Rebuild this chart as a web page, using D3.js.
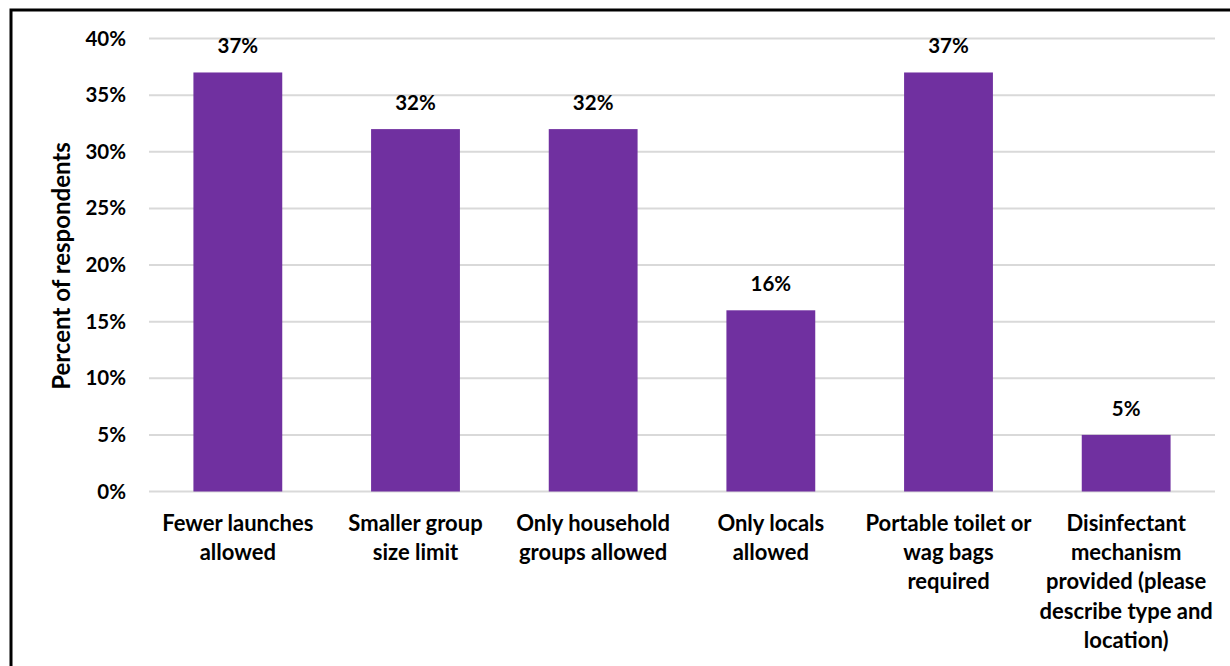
<!DOCTYPE html>
<html>
<head>
<meta charset="utf-8">
<script src="https://cdn.jsdelivr.net/npm/d3@7/dist/d3.min.js"></script>
<style>
  html, body { margin: 0; padding: 0; background: #fff; }
  svg { display: block; font-family: Lato, "Open Sans", "Liberation Sans", sans-serif; }
</style>
</head>
<body>
<svg id="chart" width="1230" height="666"></svg>
<script>
// Survey responses: management changes adopted
const categories = [
  ["Fewer launches", "allowed"],
  ["Smaller group", "size limit"],
  ["Only household", "groups allowed"],
  ["Only locals", "allowed"],
  ["Portable toilet or", "wag bags", "required"],
  ["Disinfectant", "mechanism", "provided (please", "describe type and", "location)"]
];
const values = [37, 32, 32, 16, 37, 5];
const tickValues = [0, 5, 10, 15, 20, 25, 30, 35, 40];
const yTitle = "Percent of respondents";

const svg = d3.select("#chart");
const W = 1230, H = 666;
const plot = { left: 149, right: 1215, top: 38.5, bottom: 491.5 };

// outer frame
svg.append("rect")
  .attr("x", 11).attr("y", 10)
  .attr("width", W + 20).attr("height", H + 20)
  .attr("fill", "none").attr("stroke", "#000").attr("stroke-width", 3);

const x = d3.scaleBand()
  .domain(d3.range(categories.length))
  .range([plot.left, plot.right])
  .paddingInner(0.5).paddingOuter(0.25);

const y = d3.scaleLinear().domain([0, 40]).range([plot.bottom, plot.top]);

// gridlines
svg.append("g").selectAll("line")
  .data(tickValues)
  .join("line")
  .attr("x1", plot.left).attr("x2", plot.right)
  .attr("y1", d => y(d)).attr("y2", d => y(d))
  .attr("stroke", "#d9d9d9").attr("stroke-width", 2);

// y-axis tick labels
const yAxis = d3.axisLeft(y).tickValues(tickValues).tickFormat(d => d + "%").tickSize(0).tickPadding(0);
const gy = svg.append("g").attr("transform", `translate(126,0)`).call(yAxis);
gy.select(".domain").remove();
gy.selectAll("text")
  .attr("font-family", "Lato, sans-serif")
  .attr("font-size", 20.5).attr("font-weight", 700).attr("fill", "#000");

// y-axis title
svg.append("text")
  .attr("transform", `translate(70,266) rotate(-90)`)
  .attr("text-anchor", "middle")
  .attr("font-size", 24).attr("font-weight", 700).attr("fill", "#000")
  .text(yTitle);

// bars
svg.append("g").selectAll("rect")
  .data(values)
  .join("rect")
  .attr("x", (d, i) => x(i))
  .attr("width", x.bandwidth())
  .attr("y", d => y(d))
  .attr("height", d => y(0) - y(d))
  .attr("fill", "#7030a0");

// value labels
svg.append("g").selectAll("text")
  .data(values)
  .join("text")
  .attr("x", (d, i) => x(i) + x.bandwidth() / 2)
  .attr("y", d => y(d) - 19)
  .attr("text-anchor", "middle")
  .attr("font-size", 20.5).attr("font-weight", 700).attr("fill", "#000")
  .text(d => d + "%");

// category labels
const cat = svg.append("g").selectAll("text")
  .data(categories)
  .join("text")
  .attr("x", (d, i) => x(i) + x.bandwidth() / 2)
  .attr("y", 531)
  .attr("text-anchor", "middle")
  .attr("font-size", 22).attr("font-weight", 700).attr("fill", "#000");
cat.selectAll("tspan")
  .data(d => d)
  .join("tspan")
  .attr("x", function () { return d3.select(this.parentNode).attr("x"); })
  .attr("dy", (d, i) => i === 0 ? 0 : 29.2)
  .text(d => d);
</script>
</body>
</html>
